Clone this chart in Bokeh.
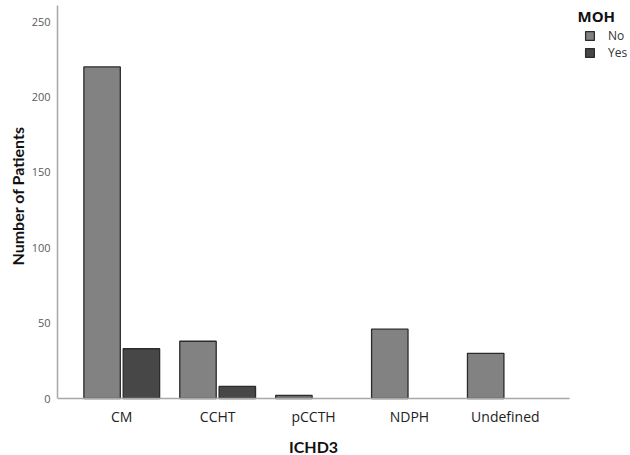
import numpy as np
from bokeh.plotting import figure
from bokeh.models import (Range1d, FixedTicker, Legend, LegendItem, Label,
                          ColumnDataSource, Title)
from bokeh.core.properties import value
from bokeh.embed import file_html
from bokeh.resources import INLINE

categories = ["CM", "CCHT", "pCCTH", "NDPH", "Undefined"]
moh_no = [220, 38, 2, 46, 30]
moh_yes = [33, 8, 0, 0, 0]
y_ticks = [0, 50, 100, 150, 200, 250]
series_names = ["No", "Yes"]
legend_title = "MOH"
x_title = "ICHD3"
y_title = "Number of Patients"

FONT = "Open Sans"
TITLE_FONT = "Lato"
pos = np.arange(1, len(categories) + 1)

# layout constants (pixels / data span)
X_LO, X_HI = 0.33, 5.67          # extent of the drawn x axis
PX_PER_CAT = 95.9
PX_PER_UNIT = 1.507
W, H, LEFT = 630, 455, 57
ZERO_PX = 398                    # pixel row of the baseline
frame_w = W - LEFT
below_px = H - ZERO_PX
y_top = ZERO_PX / PX_PER_UNIT
axis_top = (ZERO_PX - 5) / PX_PER_UNIT

p = figure(width=W, height=H,
           x_range=Range1d(X_LO, X_LO + frame_w / PX_PER_CAT),
           y_range=Range1d(-below_px / PX_PER_UNIT, y_top),
           x_axis_location=None,
           output_backend="svg", toolbar_location=None,
           min_border_left=LEFT, min_border_right=0,
           min_border_top=0, min_border_bottom=0)
p.outline_line_color = None
p.xgrid.grid_line_color = None
p.ygrid.grid_line_color = None
p.background_fill_color = "white"
p.border_fill_color = "white"

off = 0.205
bw = 0.38
src_no = ColumnDataSource(dict(x=pos - off, top=moh_no))
yes_idx = [i for i, v in enumerate(moh_yes) if v > 0]
src_yes = ColumnDataSource(dict(x=[pos[i] + off for i in yes_idx],
                                top=[moh_yes[i] for i in yes_idx]))

r_no = p.vbar(x="x", top="top", bottom=0, width=bw, source=src_no,
              fill_color="#828282", line_color="#2b2b2b", line_width=1.3)
r_yes = p.vbar(x="x", top="top", bottom=0, width=bw, source=src_yes,
               fill_color="#474747", line_color="#2b2b2b", line_width=1.3)

# x axis line (baseline)
p.segment(x0=[X_LO], y0=[0], x1=[X_HI], y1=[0],
          line_color="#a8a8a8", line_width=1.5)

# category labels
p.text(x=pos, y=[0] * len(pos), text=categories, y_offset=18,
       text_align="center", text_baseline="middle",
       text_font=value(FONT), text_font_size="14px", text_color="#222222")
# x axis title
p.text(x=[(X_LO + X_HI) / 2], y=[0], text=[x_title], y_offset=48,
       text_align="center", text_baseline="middle",
       text_font=value(TITLE_FONT), text_font_size="16px",
       text_font_style="bold", text_color="#111111")

# y axis
ya = p.yaxis[0]
ya.ticker = FixedTicker(ticks=y_ticks)
ya.bounds = (0, axis_top)
ya.axis_line_color = "#a8a8a8"
ya.axis_line_width = 1.5
ya.major_tick_line_color = None
ya.minor_tick_line_color = None
ya.major_tick_out = 0
ya.major_tick_in = 0
ya.minor_tick_out = 0
ya.minor_tick_in = 0
ya.major_label_text_font = FONT
ya.major_label_text_font_size = "11px"
ya.major_label_text_color = "#5a5a5a"
ya.major_label_standoff = 7

# y axis title, starting where the reference's label starts
y_lbl = Title(text=y_title, align="left", offset=190, standoff=0,
              vertical_align="top",
              text_font=TITLE_FONT, text_font_size="16px",
              text_font_style="bold", text_color="#111111")
p.add_layout(y_lbl, "left")

legend = Legend(items=[LegendItem(label=series_names[0], renderers=[r_no]),
                       LegendItem(label=series_names[1], renderers=[r_yes])],
                location=(527, 394), padding=0, margin=0, spacing=0,
                glyph_width=11, glyph_height=11, label_height=16,
                label_standoff=13, label_text_font=FONT,
                label_text_font_size="12px", label_text_color="#333333",
                border_line_color=None, background_fill_alpha=0)
p.add_layout(legend, "center")

title_lbl = Label(x=520, y=440, x_units="screen", y_units="screen",
                  text=legend_title, text_font=FONT, text_font_size="15px",
                  text_font_style="bold", text_color="#111111",
                  text_baseline="middle")
p.add_layout(title_lbl)

open("out.html", "w").write(file_html(p, INLINE))
